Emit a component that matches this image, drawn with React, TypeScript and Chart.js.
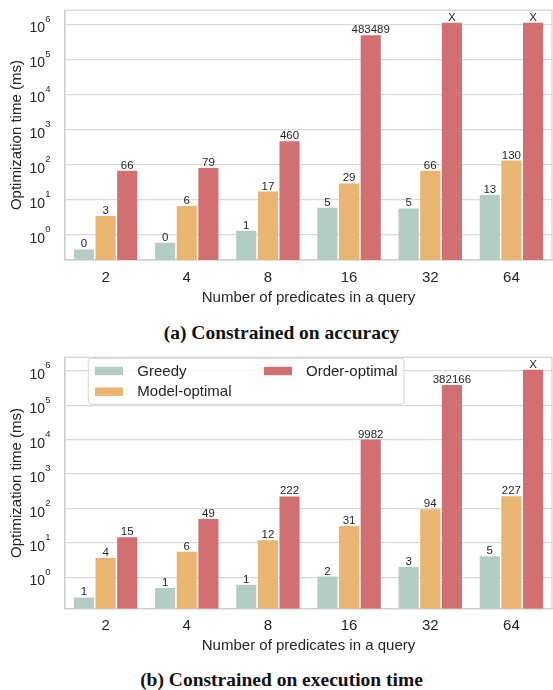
import React, { useEffect, useRef } from "react";
import { Chart, registerables } from "chart.js";

Chart.register(...registerables);

const categories = ["2", "4", "8", "16", "32", "64"];
const seriesNames = ["Greedy", "Model-optimal", "Order-optimal"];
const seriesColors = ["#b3cdc5", "#e8b670", "#d27071"];

// (a) Constrained on accuracy
const accGreedy = [0.38, 0.59, 1.3, 5.9, 5.6, 13.5];
const accModel = [3.4, 6.6, 17, 29, 66, 130];
const accOrder = [66, 79, 460, 483489, 1090000, 1090000];
const accGreedyLabels = ["0", "0", "1", "5", "5", "13"];
const accModelLabels = ["3", "6", "17", "29", "66", "130"];
const accOrderLabels = ["66", "79", "460", "483489", "X", "X"];

// (b) Constrained on execution time
const timeGreedy = [0.26, 0.49, 0.61, 1.05, 2.0, 4.1];
const timeModel = [3.6, 5.5, 11.8, 31, 94, 227];
const timeOrder = [14.5, 49, 222, 9982, 382166, 1060000];
const timeGreedyLabels = ["1", "1", "1", "2", "3", "5"];
const timeModelLabels = ["4", "6", "12", "31", "94", "227"];
const timeOrderLabels = ["15", "49", "222", "9982", "382166", "X"];

const yTickExponents = [0, 1, 2, 3, 4, 5, 6];

const FONT = '"Liberation Sans", Arial, Helvetica, sans-serif';
const TEXT = "#262626";
const GRID = "#d9d9d9";
const SPINE = "#d0d0d0";

type PanelCfg = {
  top: number;
  height: number;
  areaTop: number;
  xHeight: number;
  tickPad: number;
  titlePad: number;
  yMin: number;
  yMax: number;
  values: number[][];
  labels: string[][];
  legend: boolean;
};

const overlayPlugin = {
  id: "overlay",
  beforeDatasetsDraw(chart: any) {
    const { ctx, chartArea: a } = chart;
    ctx.save();
    ctx.strokeStyle = SPINE;
    ctx.lineWidth = 1.2;
    ctx.strokeRect(a.left, a.top, a.right - a.left, a.bottom - a.top);
    ctx.restore();
  },
  afterDatasetsDraw(chart: any, _args: any, opts: any) {
    const { ctx, chartArea: a } = chart;
    const yScale = chart.scales.y;
    ctx.save();
    // bar value labels
    ctx.font = `11.5px ${FONT}`;
    ctx.fillStyle = TEXT;
    ctx.textAlign = "center";
    ctx.textBaseline = "alphabetic";
    chart.data.datasets.forEach((ds: any, i: number) => {
      const meta = chart.getDatasetMeta(i);
      meta.data.forEach((bar: any, j: number) => {
        ctx.fillText(ds.valueLabels[j], bar.x, bar.y - 2);
      });
    });
    // y tick labels 10^n
    yTickExponents.forEach((e) => {
      const py = yScale.getPixelForValue(Math.pow(10, e));
      ctx.font = `14px ${FONT}`;
      ctx.textAlign = "right";
      ctx.textBaseline = "middle";
      ctx.fillText("10", 45, py + 4.3);
      ctx.font = `9.5px ${FONT}`;
      ctx.textAlign = "left";
      ctx.fillText(String(e), 45.2, py - 5.2);
    });
    // legend
    if (opts && opts.show) {
      const bx = a.left + 23.3;
      const by = a.top + 1;
      const bw = 315.7;
      const bh = 46;
      ctx.beginPath();
      const r = 3;
      ctx.moveTo(bx + r, by);
      ctx.lineTo(bx + bw - r, by);
      ctx.arcTo(bx + bw, by, bx + bw, by + r, r);
      ctx.lineTo(bx + bw, by + bh - r);
      ctx.arcTo(bx + bw, by + bh, bx + bw - r, by + bh, r);
      ctx.lineTo(bx + r, by + bh);
      ctx.arcTo(bx, by + bh, bx, by + bh - r, r);
      ctx.lineTo(bx, by + r);
      ctx.arcTo(bx, by, bx + r, by, r);
      ctx.closePath();
      ctx.fillStyle = "rgba(255,255,255,0.8)";
      ctx.fill();
      ctx.strokeStyle = "rgba(204,204,204,0.8)";
      ctx.lineWidth = 1;
      ctx.stroke();
      const items = [
        { sx: bx + 6.7, tx: bx + 49, cy: by + 12.7 },
        { sx: bx + 6.7, tx: bx + 49, cy: by + 33.4 },
        { sx: bx + 175.7, tx: bx + 217.7, cy: by + 12.7 },
      ];
      ctx.font = `15px ${FONT}`;
      ctx.textAlign = "left";
      ctx.textBaseline = "middle";
      chart.data.datasets.forEach((ds: any, i: number) => {
        const it = items[i];
        ctx.fillStyle = ds.backgroundColor;
        ctx.fillRect(it.sx, it.cy - 4.2, 28, 8.4);
        ctx.fillStyle = TEXT;
        ctx.fillText(ds.label, it.tx, it.cy + 0.5);
      });
    }
    ctx.restore();
  },
};

function Panel({ cfg }: { cfg: PanelCfg }) {
  const ref = useRef<HTMLCanvasElement | null>(null);
  useEffect(() => {
    if (!ref.current) return;
    const chart = new Chart(ref.current, {
      type: "bar",
      data: {
        labels: categories,
        datasets: seriesNames.map((name, i) => ({
          label: name,
          data: cfg.values[i],
          backgroundColor: seriesColors[i],
          borderWidth: 0,
          categoryPercentage: 0.8,
          barPercentage: 0.93,
          valueLabels: cfg.labels[i],
        })) as any,
      },
      options: {
        animation: false,
        responsive: false,
        devicePixelRatio: 1,
        layout: { padding: { top: cfg.areaTop, right: 1, left: 0, bottom: 0 } },
        plugins: {
          legend: { display: false },
          tooltip: { enabled: false },
          overlay: { show: cfg.legend },
        } as any,
        scales: {
          x: {
            grid: { display: false, drawTicks: false },
            border: { display: true, color: SPINE, width: 1.2 },
            ticks: { font: { size: 15, family: FONT }, color: TEXT, padding: cfg.tickPad },
            title: {
              display: true,
              text: "Number of predicates in a query",
              font: { size: 15, family: FONT },
              color: TEXT,
              padding: { top: 0, bottom: cfg.titlePad },
            },
            afterFit: (s: any) => {
              s.height = cfg.xHeight;
            },
          },
          y: {
            type: "logarithmic",
            min: cfg.yMin,
            max: cfg.yMax,
            afterBuildTicks: (s: any) => {
              s.ticks = yTickExponents.map((e) => ({ value: Math.pow(10, e) }));
            },
            ticks: { callback: () => "", font: { size: 12, family: FONT } },
            grid: { color: GRID, lineWidth: 1.2, drawTicks: false },
            border: { display: true, color: SPINE, width: 1.2 },
            title: {
              display: true,
              text: "Optimization time (ms)",
              font: { size: 15, family: FONT },
              color: TEXT,
              padding: { top: 8, bottom: 0 },
            },
            afterFit: (s: any) => {
              s.width = 65;
            },
          },
        },
      } as any,
      plugins: [overlayPlugin],
    });
    return () => chart.destroy();
  }, []);
  return (
    <canvas
      ref={ref}
      width={553}
      height={cfg.height}
      style={{ position: "absolute", left: 0, top: cfg.top, width: 553, height: cfg.height }}
    />
  );
}

const captionStyle = (top: number): React.CSSProperties => ({
  position: "absolute",
  left: 0,
  width: 563,
  top,
  textAlign: "center",
  fontFamily: '"Liberation Serif", "DejaVu Serif", serif',
  fontWeight: "bold",
  fontSize: 19.5,
  lineHeight: "22px",
  color: "#111",
  whiteSpace: "nowrap",
});

export default function App() {
  const panelA: PanelCfg = {
    top: 0,
    height: 310,
    areaTop: 6,
    xHeight: 50,
    tickPad: 8.5,
    titlePad: 3,
    yMin: 0.19,
    yMax: 2.5e6,
    values: [accGreedy, accModel, accOrder],
    labels: [accGreedyLabels, accModelLabels, accOrderLabels],
    legend: false,
  };
  const panelB: PanelCfg = {
    top: 345,
    height: 312,
    areaTop: 12.3,
    xHeight: 48.3,
    tickPad: 8,
    titlePad: 2,
    yMin: 0.122,
    yMax: 2.45e6,
    values: [timeGreedy, timeModel, timeOrder],
    labels: [timeGreedyLabels, timeModelLabels, timeOrderLabels],
    legend: true,
  };
  return (
    <div style={{ position: "absolute", left: 0, top: 0, width: 553, height: 690, background: "#fff" }}>
      <Panel cfg={panelA} />
      <div style={captionStyle(322)}>(a) Constrained on accuracy</div>
      <Panel cfg={panelB} />
      <div style={captionStyle(669)}>(b) Constrained on execution time</div>
    </div>
  );
}
